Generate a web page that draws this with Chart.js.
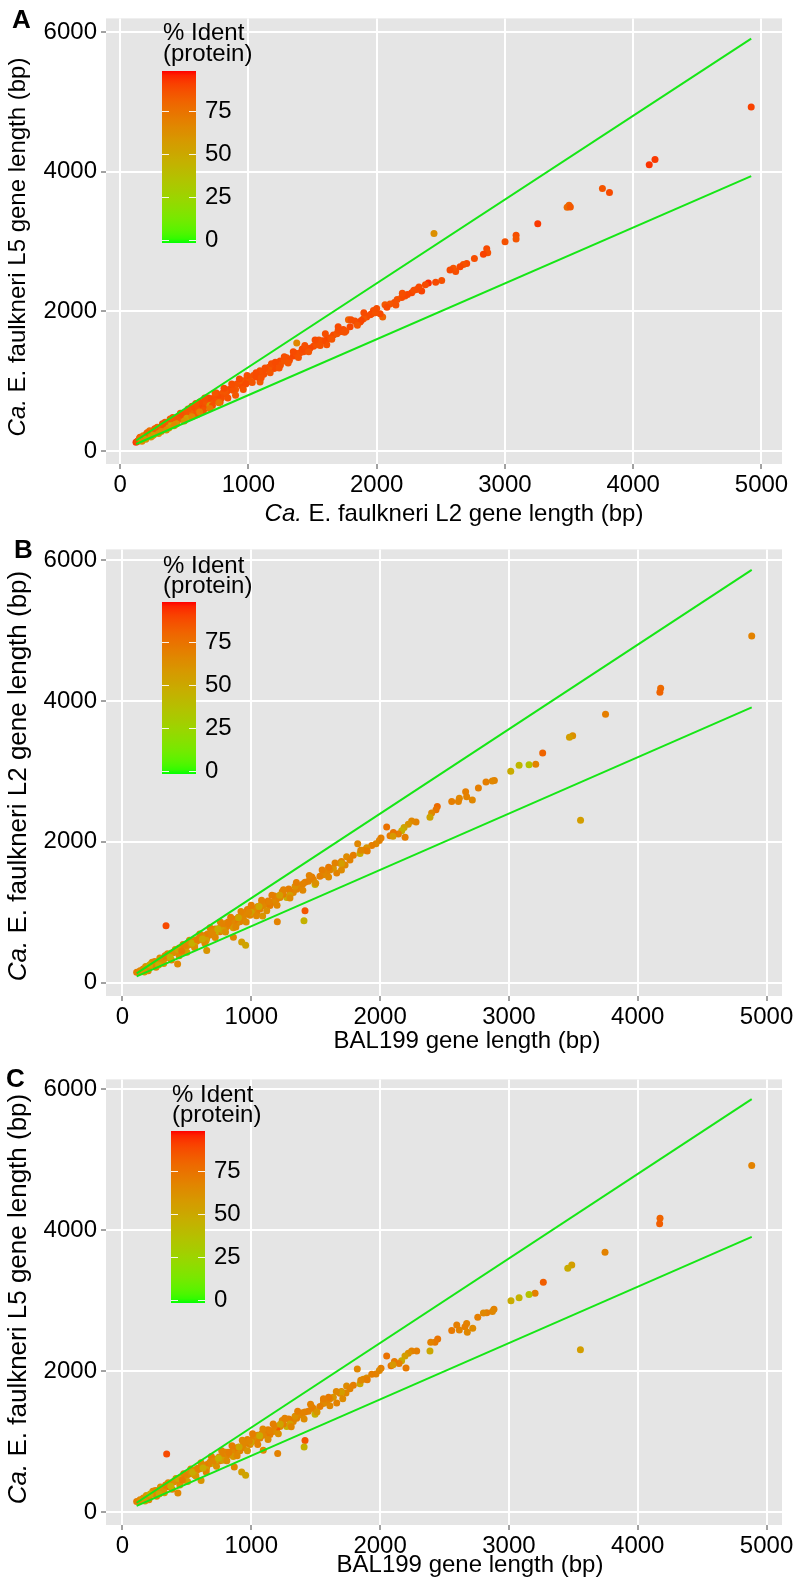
<!DOCTYPE html>
<html><head><meta charset="utf-8">
<script src="https://cdn.jsdelivr.net/npm/chart.js@4.4.1/dist/chart.umd.min.js"></script>
<style>
html,body{margin:0;padding:0;background:#fff;}
#wrap{position:relative;width:798px;height:1590px;overflow:hidden;}
canvas{position:absolute;left:0;}
</style></head><body>
<div id="wrap">
<canvas id="cA" width="798" height="531" style="top:0px"></canvas>
<canvas id="cB" width="798" height="530" style="top:531px"></canvas>
<canvas id="cC" width="798" height="529" style="top:1061px"></canvas>
</div>
<script>
// ---------- tick labels ----------
const xTicks = [0, 1000, 2000, 3000, 4000, 5000];
const yTicks = [0, 2000, 4000, 6000];
const legendTicks = [0, 25, 50, 75];
const identRange = [-2, 98];

// ---------- Panel A: L2 (x) vs L5 (y) ----------
const aX = [
4920,4170,4125,3815,3760,3500,3485,3510,3256,3087,
3087,3001,2858,2866,2832,2762,2702,2676,2650,2616,
2598,2572,2447,2507,2460,2403,2351,2312,2273,2221,
2195,2138,2104,2065,2047,2027,1975,1961,1922,1897,
1871,1845,1793,1780,1715,1663,1611,1611,1559,1507,
1455,1377,1403,1351,1299,1247,1195,1143,1091,1091,
1039,987,935,883,831,779,727,675,623,571,
519,467,415,363,311,259,207,155,124,1320,
1370,1430,1480,1530,1580,1640,1690,1740,1760,1830,
1880,1950,1990,2000,2080,2160,2240,2290,2380,1250,
1200,1160,1120,1060,1020,1000,960,950,910,900,
870,850,820,800,790,760,740,710,700,680,
660,640,610,600,580,560,550,530,510,500,
490,470,450,440,430,410,400,390,370,350,
340,330,310,300,290,280,270,260,240,230,
220,210,200,190,180,170,160,150,140,135,
520,430,380,300,250,600,700,230,1090,1180,
1280,1420,1550,1700,940,980,880,820,
560,590,620,650,690,720,750,780,810,840,
870,900,930,960,990,1030,1060,1100,1130,1170,
1210,1240,1280,1310,1350,1390,1440,1470,1520,1560,
1600,1650,1700,1750,1800,1850,1900,2150,2200,2330,
180,200,230,260,290,320,350,380,410,440,
470,500,530,560,590,620,660,700,740,770,
150,170,210,240,270,300,330,360,390,420];
const aY = [
4925,4175,4100,3700,3760,3520,3490,3495,3253,3090,
3035,2997,2895,2839,2816,2755,2685,2671,2639,2569,
2616,2592,3114,2443,2416,2406,2290,2313,2267,2220,
2197,2127,2104,2094,1918,1964,2011,1964,1918,1894,
1848,1824,1778,1880,1708,1662,1592,1522,1545,1499,
1452,1545,1406,1359,1336,1289,1219,1173,1126,987,
1080,1033,987,940,847,801,754,708,661,614,
568,475,428,382,335,289,242,196,126,1300,
1400,1420,1470,1520,1580,1620,1680,1740,1720,1860,
1870,1950,1980,2040,2060,2170,2240,2300,2380,1230,
1180,1200,1100,1060,990,1050,1000,930,960,880,
900,880,820,830,760,780,720,740,690,650,
690,620,640,590,560,600,540,510,540,470,
510,500,440,470,400,440,380,420,360,370,
330,360,300,320,280,300,260,270,250,230,
240,200,215,185,195,165,170,155,145,140,
470,380,400,270,220,520,650,260,1150,1250,
1290,1460,1590,1730,1010,960,870,860,
640,520,700,580,760,650,830,700,900,760,
960,800,1030,880,1080,980,1120,1050,1190,1120,
1270,1190,1350,1260,1420,1340,1510,1420,1590,1510,
1680,1600,1780,1700,1880,1800,1980,2090,2260,2350,
220,170,290,230,340,280,410,330,480,390,
540,430,600,490,680,560,760,610,830,690,
180,140,260,200,320,250,390,300,460,360];
const aIdent = [
90,92,93,88,85,80,78,84,92,87,
85,86,88,86,90,87,88,86,89,87,
85,88,62,86,88,94,90,87,89,86,
88,87,85,84,80,88,86,90,87,85,
88,86,89,80,87,88,89,86,87,88,
86,66,87,89,86,88,87,85,88,84,
86,87,85,88,86,87,84,86,88,85,
83,86,84,85,82,84,86,83,92,88,
86,87,89,86,88,87,85,88,86,87,
89,88,86,87,88,86,89,87,88,86,
88,84,87,88,86,85,87,88,86,84,
87,88,86,85,87,88,86,87,84,86,
85,87,88,85,82,86,80,78,84,72,
85,86,80,84,76,86,82,85,80,84,
78,86,82,85,80,84,76,83,82,80,
84,78,85,82,84,80,84,82,86,88,
55,50,45,48,52,58,60,45,86,87,
85,88,86,87,84,88,86,85,
86,84,87,85,88,86,87,85,88,86,
87,84,88,86,87,85,88,86,87,85,
88,86,87,85,88,86,87,85,88,86,
87,85,88,86,87,85,88,86,87,88,
70,60,75,55,80,65,82,58,84,62,
86,60,84,66,85,70,86,72,85,74,
78,65,80,60,82,62,84,64,83,66];
const aLineX = [125, 4920];
const aUpper = [150, 5904];
const aLower = [100, 3936];

// ---------- Panel B: BAL199 (x) vs L2 (y) ----------
const bX = [
4885,4178,4172,3750,3495,3470,3556,3262,3208,3156,
3079,3014,2887,2871,2822,2763,2716,2672,2664,2615,
2608,2556,2444,2434,2400,2387,2279,2245,2219,2186,
2168,2142,2103,2077,2051,2194,2007,1994,1968,1935,
1896,1870,1826,1844,1792,1740,1766,1728,1689,1663,
1637,1611,1585,1559,1533,1495,1482,1443,1417,1378,
1352,1326,1300,1275,1249,1223,1197,1171,1145,1119,
1094,1068,1042,1016,990,964,938,912,886,860,
835,809,783,757,731,705,679,654,628,602,
576,550,524,498,472,447,421,395,369,343,
317,291,265,239,214,188,162,136,110,338,
361,1417,1409,1202,1088,861,925,956,654,428,
1900,1850,1700,1600,1560,1470,1400,1340,1290,1240,
1180,1130,1080,1050,1000,970,940,900,880,850,
820,800,770,750,720,700,680,660,640,620,
600,580,560,540,520,500,480,460,440,420,
400,380,360,340,320,300,280,260,240,220,
200,180,160,140,650,560,780,1000,1300,1700,
720,470,860,2100,
520,560,600,640,680,720,760,800,840,880,
920,960,1000,1040,1080,1120,1160,1200,1250,1300,
1350,1400,1450,1500,1550,1600,1650,1700,180,200,
230,260,290,320,350,380,410,440,470,500,
150,170,210,250,280,330,370,430,460,540,
580,620,700,740,820,900,980,1060,1140,1220];
const bY = [
4924,4180,4125,3810,3505,3485,2306,3259,3101,3093,
3088,3000,2871,2862,2848,2765,2594,2640,2710,2617,
2571,2571,2502,2456,2409,2349,2280,2294,2248,2202,
2156,2109,2133,2086,2211,2063,2054,2017,1971,1948,
1915,1878,1971,1832,1809,1786,1740,1671,1694,1555,
1625,1601,1555,1532,1509,1394,1463,1440,1426,1371,
1325,1278,1301,1209,1255,1209,1186,1140,1094,1117,
1094,1047,1001,1047,955,978,909,863,840,817,
817,794,770,724,724,701,678,632,632,609,
586,563,540,517,493,470,447,424,401,355,
332,309,286,263,240,216,193,170,147,807,
387,1020,877,863,946,646,576,530,456,263,
1870,1880,1720,1640,1580,1500,1400,1370,1330,1290,
1230,1160,1120,1080,1010,1040,960,930,900,870,
860,840,800,770,760,730,700,690,670,650,
640,610,600,570,560,540,510,480,490,460,
440,420,390,370,350,330,300,290,280,260,
230,200,190,160,600,520,740,1000,1240,1690,
690,440,780,2080,
600,500,690,560,780,640,860,720,930,790,
1010,860,1100,950,1170,1020,1240,1100,1320,1200,
1420,1310,1520,1410,1600,1500,1700,1600,230,170,
290,220,350,270,410,320,470,380,540,430,
170,150,250,300,250,380,360,470,450,560,
610,620,720,760,840,920,1000,1080,1150,1240];
const bIdent = [
68,78,80,70,62,55,55,80,68,35,
42,48,68,66,70,70,66,68,70,66,
68,70,78,74,66,52,68,66,60,52,
45,70,74,72,75,70,70,68,66,70,
60,68,66,48,70,64,68,66,70,68,
60,66,68,64,70,42,66,68,70,64,
68,66,70,45,70,66,68,64,70,72,
66,68,70,64,66,70,66,68,62,70,
66,68,64,70,66,68,64,70,66,62,
68,64,66,60,68,64,66,62,64,66,
60,64,62,66,60,64,62,66,70,88,
90,85,45,68,60,66,55,52,60,66,
70,66,68,72,66,70,68,62,70,66,
68,70,66,64,68,70,66,68,72,66,
70,64,68,66,70,62,68,66,70,64,
68,66,62,70,66,64,68,62,66,70,
64,62,68,66,64,70,62,66,68,64,
62,66,70,64,55,50,55,52,55,55,
45,50,58,58,
66,62,68,64,70,66,68,62,70,66,
68,64,70,66,68,62,70,66,68,64,
70,66,68,62,70,66,68,64,60,66,
62,68,64,60,66,70,62,64,68,56,
64,58,50,66,48,70,45,52,72,46,
70,50,66,48,70,52,66,50,68,55];
const bLineX = [110, 4885];
const bUpper = [132, 5862];
const bLower = [88, 3908];

// ---------- Panel C: BAL199 (x) vs L5 (y) ----------
const cX = [
4885,4173,4170,3746,3488,3457,3555,3267,3203,3156,
3079,3016,2884,2872,2828,2802,2758,2719,2672,2659,
2677,2615,2595,2556,2447,2426,2393,2387,2284,2245,
2219,2193,2167,2147,2111,2085,2051,2201,2007,1994,
1968,1935,1896,1870,1823,1844,1792,1740,1766,1735,
1689,1663,1637,1611,1585,1559,1533,1495,1482,1443,
1417,1378,1352,1326,1300,1275,1249,1223,1197,1171,
1145,1119,1094,1068,1042,1016,990,964,938,912,
886,860,835,809,783,757,731,705,679,654,
628,602,576,550,524,498,472,447,421,395,
369,343,317,291,265,239,214,188,162,136,
110,343,363,1417,1410,1093,1205,868,925,956,
610,430,1900,1850,1700,1600,1560,1470,1400,1340,
1290,1240,1180,1130,1080,1050,1000,970,940,900,
880,850,820,800,770,750,720,700,680,660,
640,620,600,580,560,540,520,500,480,460,
440,420,400,380,360,340,320,300,280,260,
240,220,200,180,160,140,650,560,780,1000,
1300,1700,720,470,860,2100,
530,570,610,650,690,730,770,810,850,890,
930,970,1010,1050,1090,1130,1170,1210,1260,1310,
1360,1410,1460,1510,1560,1610,1660,1710,185,205,
235,265,295,325,355,385,415,445,475,505,
155,175,215,255,285,335,375,435,465,545,
585,625,705,745,825,905,985,1065,1145,1225];
const cY = [
4921,4171,4092,3687,3508,3462,2306,3264,3107,3089,
3043,3001,2881,2849,2830,2826,2766,2609,2678,2632,
2553,2586,2655,2576,2456,2410,2410,2286,2286,2286,
2253,2216,2147,2110,2138,2078,2216,2045,2040,2010,
1960,1955,1905,1885,2032,1823,1801,1790,1750,1690,
1685,1547,1630,1610,1560,1540,1500,1390,1470,1430,
1420,1380,1330,1285,1310,1215,1250,1215,1180,1145,
1100,1120,1090,1050,1010,1050,960,985,915,870,
845,820,825,800,775,730,730,705,685,640,
635,615,590,570,545,520,500,475,450,430,
405,360,340,315,290,270,245,220,200,175,
150,823,370,1017,925,878,832,638,569,522,
448,270,1880,1870,1710,1630,1590,1490,1410,1360,
1320,1300,1220,1170,1110,1090,1020,1030,970,920,
910,860,850,850,790,780,750,740,710,680,
660,660,630,620,590,580,550,530,520,490,
480,470,430,410,400,380,345,320,310,280,
275,250,225,205,185,165,605,525,735,990,
1250,1700,680,450,790,2090,
610,510,700,570,790,650,870,730,940,800,
1020,870,1110,960,1180,1030,1250,1110,1330,1210,
1430,1320,1530,1420,1610,1510,1710,1610,235,175,
295,225,355,275,415,325,475,385,545,435,
175,155,255,305,255,385,365,475,455,565,
615,625,725,765,845,925,1005,1085,1155,1245];
const cIdent = [
68,80,82,68,55,48,55,82,70,35,
45,48,68,66,70,66,70,64,68,70,
66,68,70,72,74,72,68,50,70,68,
62,55,48,70,72,74,75,72,70,66,
68,70,62,66,66,50,70,64,68,66,
70,68,60,66,68,64,70,45,66,68,
70,64,68,66,70,45,70,66,84,64,
70,72,66,68,70,64,66,70,66,68,
62,70,66,68,64,70,66,68,64,70,
66,62,68,64,66,60,68,64,66,62,
64,66,60,64,62,66,60,64,62,66,
70,88,92,85,45,66,68,66,55,52,
60,66,70,66,68,72,66,70,68,62,
70,66,68,70,66,64,68,70,66,68,
72,66,70,64,68,66,70,62,68,66,
70,64,68,66,62,70,66,64,68,62,
66,70,64,62,68,66,64,70,62,66,
68,64,62,66,70,64,55,50,55,52,
55,55,45,50,58,58,
64,60,66,68,70,62,68,64,70,66,
66,60,70,68,66,64,70,62,68,66,
70,64,68,60,70,66,66,64,58,66,
64,68,62,58,66,70,60,64,68,55,
62,56,48,66,50,70,45,50,72,48,
68,48,66,45,70,50,66,48,68,52];
const cLineX = [110, 4885];
const cUpper = [132, 5862];
const cLower = [88, 3908];

// ---------- styling helpers ----------
const FONT = '"Liberation Sans", Arial, Helvetica, sans-serif';
const GREEN = '#16e616';
const LOW_RGB = [0, 255, 0], HIGH_RGB = [255, 0, 0];

function s2l(c){c/=255;return c<=0.04045?c/12.92:Math.pow((c+0.055)/1.055,2.4);}
function l2s(c){c=c<=0.0031308?12.92*c:1.055*Math.pow(Math.max(c,0),1/2.4)-0.055;return Math.round(Math.max(0,Math.min(1,c))*255);}
function rgb2lab(rgb){
  const R=s2l(rgb[0]),G=s2l(rgb[1]),B=s2l(rgb[2]);
  const X=(0.4124*R+0.3576*G+0.1805*B)/0.95047,Y=(0.2126*R+0.7152*G+0.0722*B),Z=(0.0193*R+0.1192*G+0.9505*B)/1.08883;
  const f=t=>t>0.008856?Math.cbrt(t):7.787*t+16/116;
  const fx=f(X),fy=f(Y),fz=f(Z);
  return [116*fy-16,500*(fx-fy),200*(fy-fz)];
}
function lab2rgb(lab){
  const fy=(lab[0]+16)/116,fx=fy+lab[1]/500,fz=fy-lab[2]/200;
  const fi=t=>t>0.206893?t*t*t:(t-16/116)/7.787;
  const X=fi(fx)*0.95047,Y=fi(fy),Z=fi(fz)*1.08883;
  return [l2s(3.2406*X-1.5372*Y-0.4986*Z),l2s(-0.9689*X+1.8758*Y+0.0415*Z),l2s(0.0557*X-0.2040*Y+1.0570*Z)];
}
const LAB_LO = rgb2lab(LOW_RGB), LAB_HI = rgb2lab(HIGH_RGB);
function colorAtT(t){
  t=Math.max(0,Math.min(1,t));
  const c=lab2rgb([0,1,2].map(k=>LAB_LO[k]+(LAB_HI[k]-LAB_LO[k])*t));
  return 'rgb('+c[0]+','+c[1]+','+c[2]+')';
}
function identColor(v){return colorAtT((v-identRange[0])/(identRange[1]-identRange[0]));}

function drawSegs(ctx, segs, size, cx, y){
  const fontOf=s=>(s.i?'italic ':'')+size+'px '+FONT;
  let total=0;
  const ws=segs.map(s=>{ctx.font=fontOf(s);const w=ctx.measureText(s.t).width;total+=w;return w;});
  let x=cx-total/2;
  ctx.textAlign='left';ctx.textBaseline='alphabetic';ctx.fillStyle='#000';
  segs.forEach((s,k)=>{ctx.font=fontOf(s);ctx.fillText(s.t,x,y);x+=ws[k];});
}

function makePanel(P){
  const canvas=document.getElementById(P.id);
  const H=canvas.height;
  const pts=P.xs.map((x,k)=>({x:x,y:P.ys[k]}));
  const cols=P.ids.map(identColor);
  const decor={
    id:'decor'+P.id,
    beforeDraw(chart){
      const a=chart.chartArea,ctx=chart.ctx;
      ctx.save();ctx.fillStyle='#E5E5E5';ctx.fillRect(a.left,a.top,a.right-a.left,a.bottom-a.top);ctx.restore();
    },
    afterDraw(chart){
      const ctx=chart.ctx;
      ctx.save();
      ctx.fillStyle='#000';ctx.textAlign='left';ctx.textBaseline='alphabetic';
      ctx.font='bold 26px '+FONT;ctx.fillText(P.letter,P.letterX,P.letterY);
      drawSegs(ctx,P.xTitle,24,P.xTitleX,P.xTitleY);
      ctx.save();ctx.translate(P.yTitleX,P.yTitleY);ctx.rotate(-Math.PI/2);
      drawSegs(ctx,P.yTitle,P.yTitleSize,0,0);ctx.restore();
      const bx=P.legX,bw=34,top=P.legTop,bot=P.legBot;
      const g=ctx.createLinearGradient(0,bot,0,top);
      for(let k=0;k<=40;k++){g.addColorStop(k/40,colorAtT(k/40));}
      ctx.fillStyle=g;ctx.fillRect(bx,top,bw,bot-top);
      const vy=v=>bot-(v-identRange[0])/(identRange[1]-identRange[0])*(bot-top);
      ctx.strokeStyle='rgba(255,255,255,0.9)';ctx.lineWidth=1;
      ctx.font='24px '+FONT;ctx.fillStyle='#000';ctx.textAlign='left';ctx.textBaseline='middle';
      legendTicks.forEach(v=>{
        const y=Math.round(vy(v))+0.5;
        ctx.beginPath();ctx.moveTo(bx,y);ctx.lineTo(bx+7,y);ctx.moveTo(bx+bw-7,y);ctx.lineTo(bx+bw,y);ctx.stroke();
        ctx.fillText(String(v),bx+bw+9,vy(v)+1);
      });
      ctx.textBaseline='alphabetic';
      ctx.fillText('% Ident',bx+1,P.legT1);
      ctx.fillText('(protein)',bx+1,P.legT2);
      ctx.restore();
    }
  };
  const tickFont={family:FONT,size:24};
  return new Chart(canvas.getContext('2d'),{
    type:'scatter',
    data:{datasets:[
      {data:[{x:P.lx[0],y:P.up[0]},{x:P.lx[1],y:P.up[1]}],showLine:true,borderColor:GREEN,borderWidth:2,pointRadius:0,fill:false,order:0},
      {data:[{x:P.lx[0],y:P.lo[0]},{x:P.lx[1],y:P.lo[1]}],showLine:true,borderColor:GREEN,borderWidth:2,pointRadius:0,fill:false,order:0},
      {data:pts,pointBackgroundColor:cols,pointBorderColor:cols,pointBorderWidth:0,pointRadius:3.5,order:1}
    ]},
    options:{
      responsive:false,animation:false,events:[],
      layout:{padding:{left:0,right:16,top:7,bottom:0}},
      plugins:{legend:{display:false},tooltip:{enabled:false}},
      scales:{
        x:{type:'linear',min:P.xMin,max:P.xMax,
          afterBuildTicks:s=>{s.ticks=xTicks.map(v=>({value:v}));},
          afterFit:s=>{s.height=H-P.bottom;},
          grid:{color:'#ffffff',lineWidth:2,tickColor:'#444',tickWidth:1,tickLength:5,drawTicks:true},
          border:{display:false},
          ticks:{font:tickFont,color:'#000',padding:2,maxRotation:0,autoSkip:false,callback:v=>String(v)}},
        y:{type:'linear',min:P.yMin,max:P.yMax,
          afterBuildTicks:s=>{s.ticks=yTicks.map(v=>({value:v}));},
          afterFit:s=>{s.width=106;},
          grid:{color:'#ffffff',lineWidth:2,tickColor:'#444',tickWidth:1,tickLength:5,drawTicks:true},
          border:{display:false},
          ticks:{font:tickFont,color:'#000',padding:4,autoSkip:false,callback:v=>String(v)}}
      }
    },
    plugins:[decor]
  });
}

makePanel({id:'cA',xs:aX,ys:aY,ids:aIdent,lx:aLineX,up:aUpper,lo:aLower,
  bottom:464,xMin:-110,xMax:5160,yMin:-186,yMax:6194,
  letter:'A',letterX:12,letterY:28,
  xTitle:[{t:'Ca.',i:true},{t:' E. faulkneri L2 gene length (bp)'}],xTitleX:454,xTitleY:521,
  yTitle:[{t:'Ca.',i:true},{t:' E. faulkneri L5 gene length (bp)'}],yTitleX:25,yTitleY:247,yTitleSize:24,
  legX:162,legTop:71,legBot:243,legT1:40,legT2:61});
makePanel({id:'cB',xs:bX,ys:bY,ids:bIdent,lx:bLineX,up:bUpper,lo:bLower,
  bottom:465,xMin:-128,xMax:5120,yMin:-190,yMax:6152,
  letter:'B',letterX:14,letterY:27,
  xTitle:[{t:'BAL199 gene length (bp)'}],xTitleX:467,xTitleY:517,
  yTitle:[{t:'Ca.',i:true},{t:' E. faulkneri L2 gene length (bp)'}],yTitleX:26,yTitleY:245,yTitleSize:26,
  legX:162,legTop:71,legBot:243,legT1:42,legT2:62});
makePanel({id:'cC',xs:cX,ys:cY,ids:cIdent,lx:cLineX,up:cUpper,lo:cLower,
  bottom:464,xMin:-128,xMax:5120,yMin:-184,yMax:6143,
  letter:'C',letterX:6,letterY:26,
  xTitle:[{t:'BAL199 gene length (bp)'}],xTitleX:470,xTitleY:511,
  yTitle:[{t:'Ca.',i:true},{t:' E. faulkneri L5 gene length (bp)'}],yTitleX:26,yTitleY:238,yTitleSize:26,
  legX:171,legTop:70,legBot:242,legT1:41,legT2:61});
</script>
</body></html>
